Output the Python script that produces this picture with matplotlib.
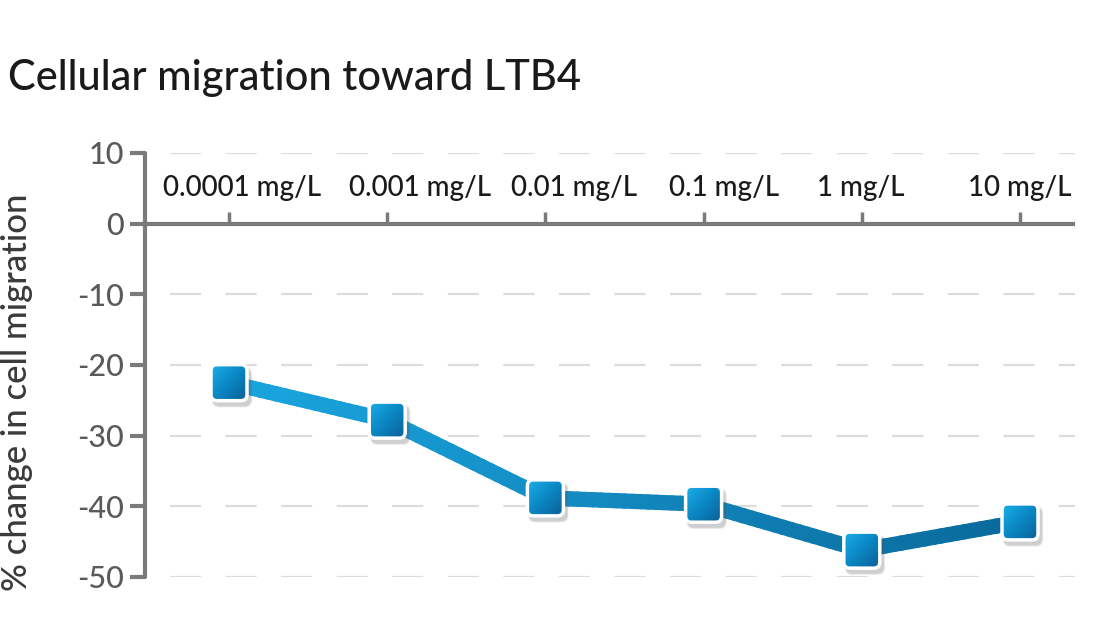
import numpy as np
import matplotlib
matplotlib.use("Agg")
import matplotlib.pyplot as plt
from matplotlib.collections import LineCollection
from matplotlib.colors import LinearSegmentedColormap
from matplotlib.patches import FancyBboxPatch
from matplotlib.transforms import ScaledTranslation

plt.rcParams['font.family'] = ['Lato', 'DejaVu Sans']
plt.rcParams['font.weight'] = 'medium'

# data
doses = ['0.0001 mg/L', '0.001 mg/L', '0.01 mg/L', '0.1 mg/L', '1 mg/L', '10 mg/L']
change = [-22.5, -27.8, -38.8, -39.7, -46.2, -42.2]
yticks = [10, 0, -10, -20, -30, -40, -50]

label_shift = [13, 33, 29, 20, -1, 0]   # px nudges of the dose labels

fig = plt.figure(figsize=(11, 6.21), dpi=100)
ax = fig.add_axes([145/1100, 44/621, 930/1100, 424/621])
x = np.arange(len(doses))
ax.set_xlim(-(229-145)/158.2, 5 + (1075-1020)/158.2)
ax.set_ylim(-50, 10)

for s in ['top', 'right', 'bottom']:
    ax.spines[s].set_visible(False)
ax.spines['left'].set_color('#7a7a7a')
ax.spines['left'].set_linewidth(3)
ax.spines['left'].set_capstyle('round')

ax.set_xticks([])
ax.set_yticks(yticks)
ax.set_yticklabels([str(v) for v in yticks])
ax.tick_params(axis='y', length=11, width=3, color='#7a7a7a', labelcolor='#5a5a5a',
               labelsize=22, pad=4)

# dashed grid
for v in yticks:
    if v != 0:
        ax.axhline(v, xmin=25/930, xmax=1, color='#dcdcdc', lw=1.6,
                   dashes=(14, 11), zorder=0)

# zero line + small ticks
ax.axhline(0, color='#7a7a7a', lw=3, zorder=2, solid_capstyle='butt')
for i in x:
    ax.plot([i, i], [0, 1.7], color='#7a7a7a', lw=2.5, zorder=2, solid_capstyle='butt')

for i, lab in enumerate(doses):
    ax.annotate(lab, (i, 5.0), xytext=(label_shift[i]*0.72, 0), textcoords='offset points',
                ha='center', va='center', fontsize=20, color='#1a1a1a')

# line with gradient colour
cmap_line = LinearSegmentedColormap.from_list('ln', ['#1aa6e0', '#0a6a9c'])
xs, ys = [], []
for i in range(len(x) - 1):
    t = np.linspace(0, 1, 20, endpoint=False)
    xs.extend(x[i] + t * (x[i+1] - x[i]))
    ys.extend(change[i] + t * (change[i+1] - change[i]))
xs.append(x[-1]); ys.append(change[-1])
pts = np.array([xs, ys]).T.reshape(-1, 1, 2)
segs = np.concatenate([pts[:-1], pts[1:]], axis=1)
lc = LineCollection(segs, cmap=cmap_line, linewidths=11, capstyle='round', zorder=3)
lc.set_array(np.linspace(0, 1, len(segs)))
ax.add_collection(lc)

# rounded square markers with gradient and shadow
grad = np.add.outer(np.linspace(0, 1, 50), np.linspace(0, 1, 50)) / 2
cmap_mk = LinearSegmentedColormap.from_list('mk', ['#1db0ea', '#0a87c4', '#0a5f93'])
h = 0.18  # inches
hx = h * 100 / 158.2
hy = h * 100 / 7.066
for xi, yi in zip(x, change):
    tr = fig.dpi_scale_trans + ScaledTranslation(xi, yi, ax.transData)
    for k, a in enumerate([0.10, 0.10, 0.10]):
        d = 0.02 + 0.012 * k
        sh = FancyBboxPatch((-h + 0.03 - d/2, -h - 0.045 - d/2), 2*h + d, 2*h + d,
                            boxstyle='round,pad=0,rounding_size=0.07',
                            transform=tr, fc='#555555', ec='none', alpha=a, zorder=4)
        ax.add_patch(sh)
    box = FancyBboxPatch((-h, -h), 2*h, 2*h, boxstyle='round,pad=0,rounding_size=0.06',
                         transform=tr, fc='none', ec='white', lw=2.5, zorder=6)
    ax.add_patch(box)
    im = ax.imshow(grad, cmap=cmap_mk, extent=[xi - hx, xi + hx, yi - hy, yi + hy],
                   aspect='auto', zorder=5, interpolation='bilinear')
    im.set_clip_path(box)

ax.set_xlim(-(229-145)/158.2, 5 + (1075-1020)/158.2)
ax.set_ylim(-50, 10)

fig.text(8/1100, 1 - 78/621, 'Cellular migration toward LTB4', fontsize=30,
         color='#1a1a1a', va='center', ha='left')
fig.text(17/1100, 1 - 392/621, '% change in cell migration', fontsize=25,
         color='#3a3a3a', rotation=90, va='center', ha='center')

fig.savefig('out.png', dpi=100)
